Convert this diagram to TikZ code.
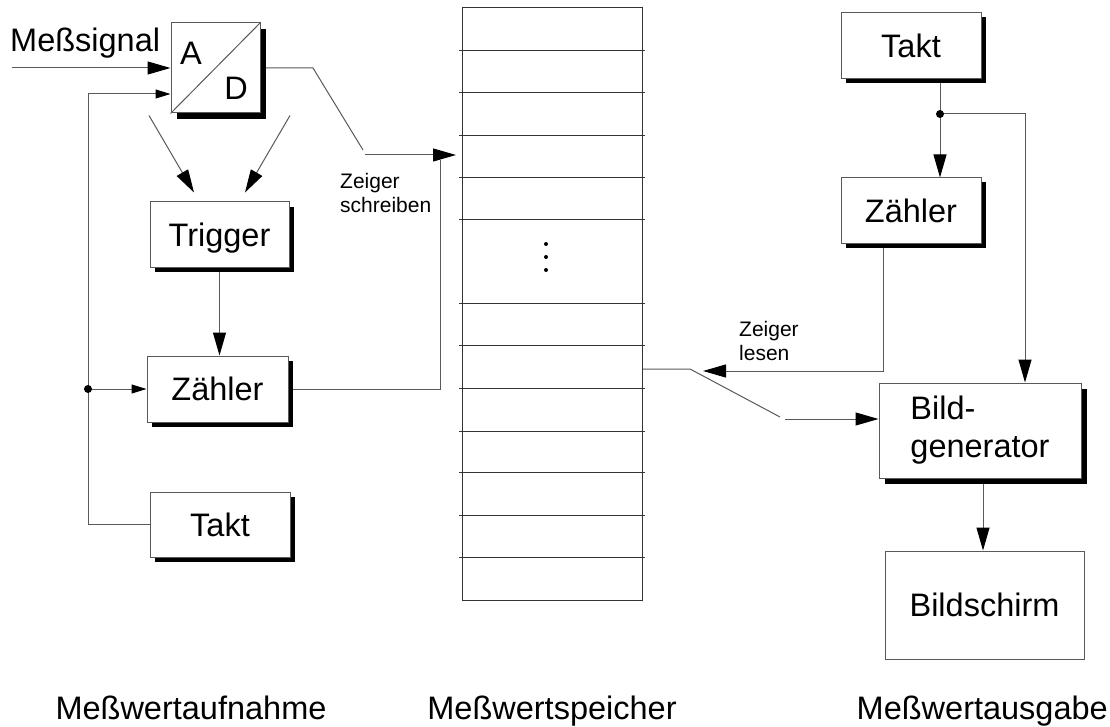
\documentclass[tikz,border=0pt]{standalone}
\usepackage{fontspec}
\setmainfont{Liberation Sans}
\usetikzlibrary{arrows.meta}
\pgfdeclarelayer{background}
\pgfsetlayers{background,main}

\newcommand\biglab{\fontsize{32.5}{38}\selectfont}
\newcommand\smalllab{\fontsize{21}{24}\selectfont}

\tikzset{
  wire/.style={draw=black!65, line width=1pt},
  bigarrow/.style={wire, -{Triangle[length=23pt,width=13pt,color=black]}},
  smallarrow/.style={wire, -{Triangle[length=15pt,width=9pt,color=black]}},
  boxshade/.style={preaction={draw=none, fill=black, transform canvas={xshift=#1, yshift=-#1}}},
  boxshade/.default=5pt,
  frame/.style={draw=black!65, line width=1pt, fill=white, inner sep=0pt, font=\biglab},
  blockbox/.style={frame, minimum width=140pt, minimum height=66pt,
                   text height=23.3pt, text depth=0pt},
  junction/.style={circle, fill=black, inner sep=0pt, minimum size=8pt},
  memline/.style={draw=black!80, line width=1pt},
  caption/.style={font=\biglab, inner sep=0pt, anchor=base},
  smalltext/.style={font=\smalllab, align=left, inner sep=0pt, anchor=north west},
}

\begin{document}
\begin{tikzpicture}[x=1pt, y=-1pt]
\useasboundingbox (0,0) rectangle (1110,727);

% ---- acquisition side ----
\node[frame, boxshade=6pt, minimum width=89pt, minimum height=90pt] (ad) at (215.5,68) {};
\draw[wire] (ad.south west) -- (ad.north east);
\node[caption] (adA) at (191,65) {A};
\node[caption] (adD) at (236,100) {D};

\node[blockbox, boxshade, minimum width=139pt, minimum height=65pt] (trig) at (219.5,234.5) {Trigger};
\node[blockbox, boxshade, minimum width=141pt] (zl) at (217.5,389) {Zähler};
\node[blockbox, boxshade, minimum height=65pt] (tl) at (220,524.5) {Takt};

\node[font=\biglab, anchor=base west, inner sep=0pt] (sig) at (10,52) {Meßsignal};
\node[smalltext] (zs) at (340,173) {Zeiger\\schreiben};

% ---- memory ----
\node[memline, fill=white, minimum width=180pt, minimum height=592pt, inner sep=0pt] (mem) at (552,304) {};
\foreach \r in {51,93,136,178,220,303,345,388,431,472,515,557}
  \draw[memline] (459,\r) -- (645,\r);
\foreach \d in {244,257,270}
  \fill (546,\d) circle (2pt);

% ---- output side ----
\node[blockbox, boxshade=4.5pt] (tr) at (911,46) {Takt};
\node[blockbox, boxshade=4.5pt] (zr) at (911,211) {Zähler};
\node[frame, boxshade=6pt, minimum width=202pt, minimum height=95pt, align=left] (bg) at (980,430.5) {Bild-\\generator};
\node[frame, minimum width=199pt, minimum height=108pt, text height=23.3pt, text depth=0pt] (bs) at (984.5,605) {Bildschirm};
\node[smalltext] (zlz) at (739,321) {Zeiger\\lesen};

% ---- section titles ----
\node[caption] (t1) at (191,719) {Meßwertaufnahme};
\node[caption] (t2) at (552,719) {Meßwertspeicher};
\node[font=\biglab, inner sep=0pt, anchor=base east] (t3) at (1108,719) {Meßwertausgabe};

% ---- junctions and bend points ----
\coordinate (in1) at (12,68);
\coordinate (fbc) at (88,94);
\node[junction] (jl) at (88,389) {};
\coordinate (sw1a) at (313,68);
\coordinate (sw1b) at (363,150);
\coordinate (sw1c) at (365,155);
\coordinate (wtip) at (456,155);
\coordinate (wz) at (440,160);
\node[junction] (jr) at (940,114) {};
\coordinate (rtip) at (703,371);
\coordinate (mo2) at (690,369);
\coordinate (mo3) at (780,417);
\coordinate (mo4) at (785,419);

% ---- connectors ----
\begin{pgfonlayer}{background}
\draw[bigarrow] (in1) -- (ad.west);
\draw[smallarrow] (tl.west) -| (fbc) -- (fbc -| ad.west);
\draw[smallarrow] (jl.center) -- (zl.west);
\draw[bigarrow] ([shift={(-66.5,2)}]ad.south) -- ([shift={(-25.5,-9)}]trig.north);
\draw[bigarrow] ([shift={(74.5,2)}]ad.south) -- ([shift={(25.5,-9)}]trig.north);
\draw[bigarrow] (trig.south) -- (trig.south |- zl.north);
\draw[wire] (ad.east) -- (sw1a) -- (sw1b);
\draw[bigarrow] (sw1c) -- (wtip);
\draw[wire] (zl.east) -| (wz);

\draw[wire] (tr.south -| jr) -- (jr.center);
\draw[bigarrow] (jr.center) -- (jr |- zr.north);
\draw[bigarrow] (jr.center) -| ([xshift=45pt]bg.north);
\draw[bigarrow] ([xshift=-28pt]zr.south) |- (rtip);
\draw[wire] (mem.east |- mo2) -- (mo2) -- (mo3);
\draw[bigarrow] (mo4) -- (mo4 -| bg.west);
\draw[bigarrow] ([xshift=3pt]bg.south) -- ([xshift=3pt]bg.south |- bs.north);
\end{pgfonlayer}
\end{tikzpicture}
\end{document}
